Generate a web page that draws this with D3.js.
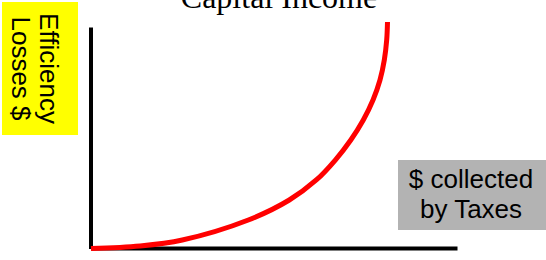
<!DOCTYPE html>
<html><head><meta charset="utf-8">
<script src="https://cdn.jsdelivr.net/npm/d3@7"></script>
<style>body{margin:0;background:#fff;}svg{display:block;}</style>
</head><body>
<script>
const title = "Capital Income";
const yLabelLines = ["Efficiency", "Losses $"];
const xLabelLines = ["$ collected", "by Taxes"];
const curveX = [0, 1.339, 2.495, 4.298, 5.418, 6.156, 6.675, 7.098, 7.440, 7.705, 7.896, 8.014, 8.079, 8.101];
const curveY = [0, 0.113, 0.384, 1.287, 2.190, 3.093, 3.995, 4.898, 5.801, 6.704, 7.607, 8.510, 9.413, 10.226];

const W = 546, H = 260;
const svg = d3.select("body").append("svg").attr("width", W).attr("height", H);

const x = d3.scaleLinear().domain([0, 10]).range([91, 457]);
const y = d3.scaleLinear().domain([0, 10]).range([248.5, 27]);

// axes (no ticks)
const gx = svg.append("g").attr("transform", `translate(0,${y(0) - 0.5})`)
  .call(d3.axisBottom(x).tickValues([]).tickSizeOuter(0));
const gy = svg.append("g").attr("transform", `translate(${x(0) - 0.5},0)`)
  .call(d3.axisLeft(y).tickValues([]).tickSizeOuter(0));
[gx, gy].forEach(g => g.select(".domain").attr("stroke", "#000").attr("stroke-width", 4));

// curve
const pts = curveX.map((v, i) => [v, curveY[i]]);
svg.append("path").datum(pts)
  .attr("fill", "none").attr("stroke", "#ff0000").attr("stroke-width", 5)
  .attr("d", d3.line().x(d => x(d[0])).y(d => y(d[1])).curve(d3.curveCatmullRom.alpha(0.5)));

// title
svg.append("text").attr("x", 279).attr("y", 8).attr("text-anchor", "middle")
  .attr("font-family", "'Liberation Serif', 'Times New Roman', serif").attr("font-size", 32)
  .attr("fill", "#000").text(title);

// y label box
svg.append("rect").attr("x", 2).attr("y", 2).attr("width", 76).attr("height", 133).attr("fill", "#ffff00");
const yl = svg.append("text").attr("transform", "translate(68,68.5) rotate(90)")
  .attr("text-anchor", "middle")
  .attr("font-family", "'Liberation Sans', Arial, sans-serif").attr("font-size", 26).attr("fill", "#000");
yLabelLines.forEach((t, i) => yl.append("tspan").attr("x", 0).attr("y", 28 + i * 28).text(t));

// x label box
svg.append("rect").attr("x", 398).attr("y", 160).attr("width", 148).attr("height", 70).attr("fill", "#b3b3b3");
const xl = svg.append("text").attr("text-anchor", "middle")
  .attr("font-family", "'Liberation Sans', Arial, sans-serif").attr("font-size", 26).attr("fill", "#000");
xLabelLines.forEach((t, i) => xl.append("tspan").attr("x", 471).attr("y", 188 + i * 30).text(t));
</script>
</body></html>
